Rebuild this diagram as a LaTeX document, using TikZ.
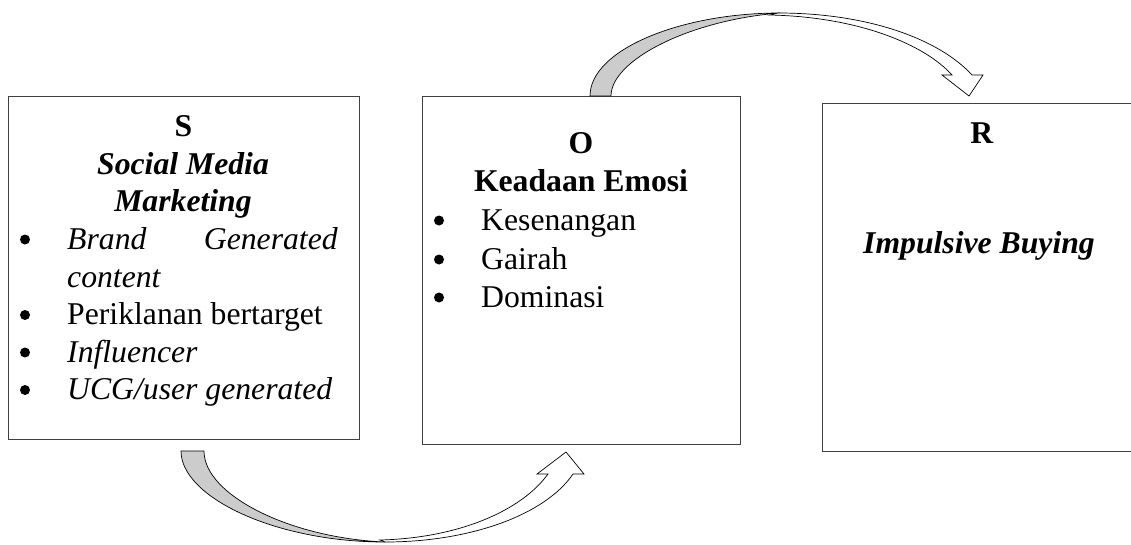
\documentclass[tikz,border=0pt]{standalone}
\usepackage{fontspec}
\setmainfont{Liberation Serif}
\begin{document}
\begin{tikzpicture}[x=1pt,y=-1pt,
  boxstyle/.style={draw=black!75, line width=1.3pt, inner sep=0pt},
  txt/.style={inner sep=0pt, anchor=base, font=\fontsize{31.7}{38}\selectfont},
  txtw/.style={txt, anchor=base west},
  txte/.style={txt, anchor=base east},
  bul/.style={circle, fill=black, inner sep=0pt, minimum size=10pt},
  backband/.style={fill=black!20, draw=black, line width=0.7pt, line join=round},
  frontband/.style={fill=white, draw=black, line width=0.7pt, line join=miter},
]
\clip (0,0) rectangle (1131,544);
% boxes
\node[boxstyle, minimum width=351pt, minimum height=343pt, anchor=north west] (S) at (8,96) {};
\node[boxstyle, minimum width=318pt, minimum height=348pt, anchor=north west] (O) at (422,96) {};
\node[boxstyle, minimum width=320pt, minimum height=348pt, anchor=north west] (R) at (822,103) {};
% top curved arrow (O -> R)
\draw[backband] (590,96) .. controls (590,50) and (680,13) .. (780,13)
  .. controls (690,20) and (611,60) .. (611,96) -- cycle;
\draw[frontband] (778,13) .. controls (870,13) and (940,40) .. (972,75)
  -- (983,75) -- (969,96) -- (942,75) -- (952,75)
  .. controls (925,45) and (860,17) .. (770,15) -- cycle;
% bottom curved arrow (S -> O)
\draw[backband] (181,451) .. controls (181,497) and (275,542) .. (385,542)
  .. controls (290,538) and (204,495) .. (204,451) -- cycle;
\draw[frontband] (385,542) .. controls (470,542) and (545,515) .. (573,474)
  -- (584,474) -- (566,452) -- (537,474) -- (548,474)
  .. controls (522,510) and (460,538) .. (380,540) -- cycle;
% S box text
\node[txt] (s1) at (183.5,136.5) {\textbf{S}};
\node[txt] (s2) at (183,174) {\textbf{\textit{Social Media}}};
\node[txt] (s3) at (183,211.5) {\textbf{\textit{Marketing}}};
\node[bul] (sb1) at (25,239.5) {};
\node[txtw] (s4a) at (67,249) {\textit{Brand}};
\node[txte] (s4b) at (338,249) {\textit{Generated}};
\node[txtw] (s5) at (67,287) {\textit{content}};
\node[bul] (sb2) at (25,315) {};
\node[txtw] (s6) at (67,324.5) {Periklanan bertarget};
\node[bul] (sb3) at (25,352.5) {};
\node[txtw] (s7) at (67,362) {\textit{Influencer}};
\node[bul] (sb4) at (25,390) {};
\node[txtw] (s8) at (67,399.5) {\textit{UCG/user generated}};
% O box text
\node[txt] (o1) at (581,153) {\textbf{O}};
\node[txt] (o2) at (581,191) {\textbf{Keadaan Emosi}};
\node[bul] (ob1) at (439,220.5) {};
\node[txtw] (o3) at (481,230) {Kesenangan};
\node[bul] (ob2) at (439,259.5) {};
\node[txtw] (o4) at (481,269) {Gairah};
\node[bul] (ob3) at (439,297.5) {};
\node[txtw] (o5) at (481,307) {Dominasi};
% R box text
\node[txt] (r1) at (982,143) {\textbf{R}};
\node[txt] (r2) at (979,253) {\textbf{\textit{Impulsive Buying}}};
\end{tikzpicture}
\end{document}
